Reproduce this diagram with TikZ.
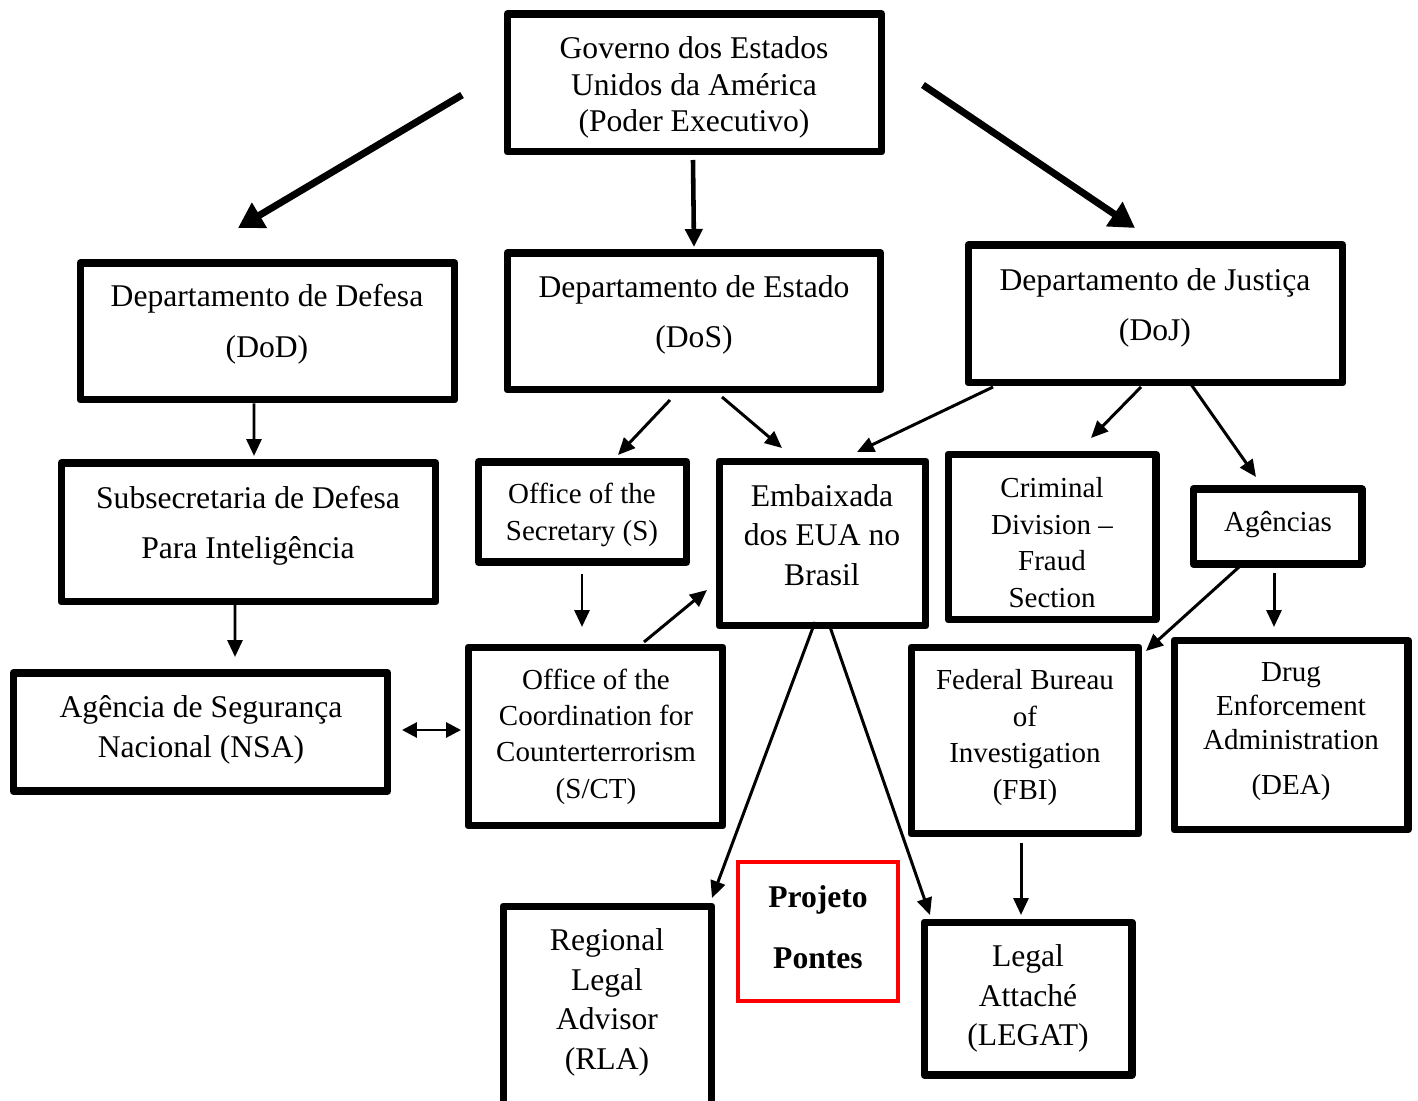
\documentclass[tikz,border=0pt]{standalone}
\usepackage{fontspec}
\setmainfont{Liberation Serif}
\usepackage{tikz}
\usetikzlibrary{arrows.meta,calc}

\tikzset{
  box/.style={draw, line width=4pt, line join=round, inner sep=0pt},
  lbl/.style={align=center, font=\fontsize{18}{#1}\selectfont},
  lbs/.style={align=center, font=\fontsize{16.5}{#1}\selectfont},
  arr/.style={line width=1.7pt, -{Triangle[length=0.34cm,width=0.3cm]}},
  midarr/.style={line width=2.6pt, -{Triangle[length=0.36cm,width=0.34cm]}},
  bigarr/.style={line width=4pt, -{Triangle[length=0.5cm,width=0.56cm]}},
}

\begin{document}
\begin{tikzpicture}[x=0.02cm,y=-0.02cm]
\clip (0,0) rectangle (1418,1101);

% Top level
\node[box, minimum width=7.5cm, minimum height=2.76cm] (gov) at (694.5,83) {};
\node[lbl=20.8] (govtxt) at (694,87.5) {Governo dos Estados\\Unidos da América\\(Poder Executivo)};

% Departments
\node[box, minimum width=7.5cm, minimum height=2.74cm] (dod) at (267.5,331.5) {};
\node[lbl=29] (dodtxt) at (267,324.5) {Departamento de Defesa\\(DoD)};
\node[box, minimum width=7.48cm, minimum height=2.74cm] (dos) at (694,321.5) {};
\node[lbl=28.5] (dostxt) at (694,315) {Departamento de Estado\\(DoS)};
\node[box, minimum width=7.5cm, minimum height=2.76cm] (doj) at (1155.5,314) {};
\node[lbl=28.5] (dojtxt) at (1155,308) {Departamento de Justiça\\(DoJ)};

% Second row
\node[box, minimum width=7.5cm, minimum height=2.78cm] (usd) at (248.5,532.5) {};
\node[lbl=28.5] (usdtxt) at (248,526) {Subsecretaria de Defesa\\Para Inteligência};
\node[box, minimum width=4.18cm, minimum height=2.0cm] (sec) at (582.5,512) {};
\node[lbs=21] (sectxt) at (582,514.5) {Office of the\\Secretary (S)};
\node[box, minimum width=4.14cm, minimum height=3.3cm] (emb) at (822.5,543.5) {};
\node[lbl=22.5] (embtxt) at (822,535) {Embaixada\\dos EUA no\\Brasil};
\node[box, minimum width=4.16cm, minimum height=3.32cm] (crim) at (1052,537) {};
\node[lbs=20.9] (crimtxt) at (1052,542.5) {Criminal\\Division --\\Fraud\\Section};
\node[box, minimum width=3.38cm, minimum height=1.5cm] (agen) at (1277.5,526.5) {};
\node[lbs=20] (agentxt) at (1278,525) {Agências};

% Third row
\node[box, minimum width=7.5cm, minimum height=2.36cm] (nsa) at (200.5,732) {};
\node[lbl=22.8] (nsatxt) at (201,730) {Agência de Segurança\\Nacional (NSA)};
\node[box, minimum width=5.1cm, minimum height=3.58cm] (sct) at (595.5,736.5) {};
\node[lbs=20.7] (scttxt) at (596,736.5) {Office of the\\Coordination for\\Counterterrorism\\(S/CT)};
\node[box, minimum width=4.56cm, minimum height=3.74cm] (fbi) at (1025,740.5) {};
\node[lbs=20.7] (fbitxt) at (1025,737.5) {Federal Bureau\\of\\Investigation\\(FBI)};
\node[box, minimum width=4.68cm, minimum height=3.8cm] (dea) at (1291,735) {};
\node[lbs=19.3] (deatxt) at (1291,731.5) {Drug\\Enforcement\\Administration\\[6.3pt](DEA)};

% Bottom row
\node[box, minimum width=4.18cm, minimum height=4.08cm] (rla) at (607.5,1008) {};
\node[lbl=22.6] (rlatxt) at (607,1002.5) {Regional\\Legal\\Advisor\\(RLA)};
\node[draw=red, line width=2.8pt, inner sep=0pt, minimum width=3.2cm, minimum height=2.78cm] (pp) at (818,931.5) {};
\node[lbl=34.7, font=\fontsize{18}{34.7}\selectfont\bfseries] (pptxt) at (818,927) {Projeto\\Pontes};
\node[box, minimum width=4.16cm, minimum height=3.06cm] (legat) at (1028,998.5) {};
\node[lbl=22.5] (legattxt) at (1028,998.5) {Legal\\Attaché\\(LEGAT)};

% Arrows from the government
\draw[bigarr] ($(gov.west)+(-41.5,12)$) -- ($(dod.north)+(-29.5,-31.5)$);
\draw[midarr] ($(gov.south)+(-1.5,4.5)$) -- ($(dos.north)+(0,-2.5)$);
\draw[bigarr] ($(gov.east)+(37.5,2)$) -- ($(doj.north)+(-20.5,-13.5)$);

% Defense
\draw[arr] ($(dod.south)+(-13.5,0)$) -- ($(usd.north)+(5.5,-3.5)$);
\draw[arr] ($(usd.south)+(-13.5,-1.5)$) -- ($(nsa.north)+(34.5,-12.5)$);
\draw[line width=1.7pt, {Triangle[length=0.3cm,width=0.3cm]}-{Triangle[length=0.3cm,width=0.3cm]}] ($(nsa.east)+(10.5,-2)$) -- ($(sct.west)+(-3.5,-6.5)$);

% State
\draw[arr] ($(dos.south)+(-24,6.5)$) -- ($(sec.north)+(35.5,-3.5)$);
\draw[arr] ($(dos.south)+(28,3.5)$) -- ($(emb.north)+(-40.5,-9.5)$);
\draw[arr] ($(sec.south)+(-0.5,8.5)$) -- ($(sct.north)+(-13.5,-16.5)$);
\draw[arr] ($(sct.north)+(48.5,-1.5)$) -- ($(emb.west)+(-8.5,46.5)$);

% Justice
\draw[arr] ($(doj.south west)+(28.5,0.5)$) -- ($(emb.north)+(34.5,-5.5)$);
\draw[arr] ($(doj.south)+(-14.5,0.5)$) -- ($(crim.north)+(39,-12.5)$);
\draw[arr] ($(doj.south)+(32.5,-6.5)$) -- ($(agen.north)+(-21.5,-8.5)$);
\draw[arr] ($(agen.south)+(-38.5,-0.5)$) -- ($(fbi.north east)+(3.5,7.5)$);
\draw[arr] ($(agen.south)+(-3.5,5.5)$) -- ($(dea.north)+(-17,-9.5)$);
\draw[arr] ($(fbi.south)+(-4,5.5)$) -- ($(legat.north)+(-7,-3.5)$);

% Embassy
\draw[arr] ($(emb.south)+(-7.5,-7.5)$) -- ($(rla.north east)+(-3.5,-4.5)$);
\draw[arr] ($(emb.south)+(6.5,-5.5)$) -- ($(legat.north west)+(9.5,-3.5)$);
\end{tikzpicture}
\end{document}
